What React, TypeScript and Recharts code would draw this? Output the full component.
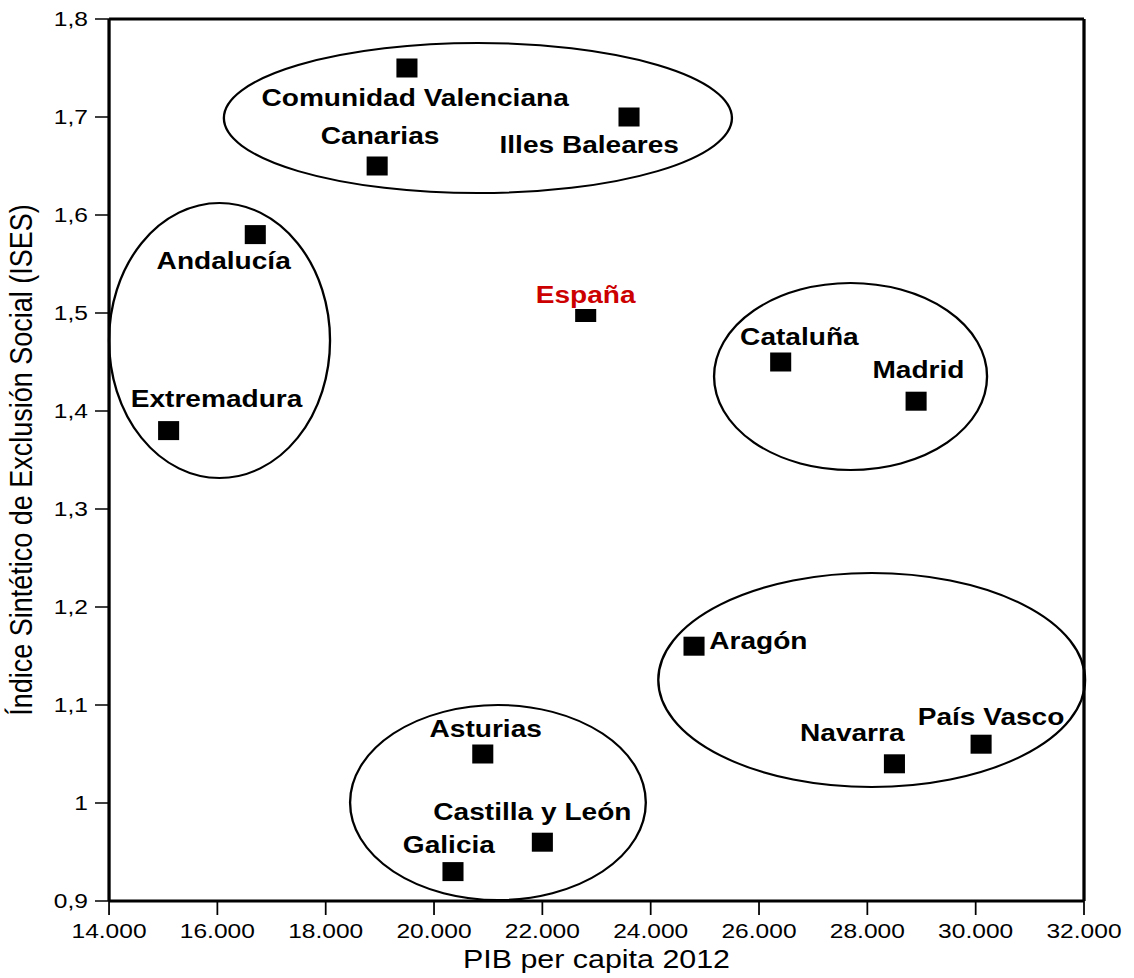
import { Label, ReferenceArea, ReferenceLine, Scatter, ScatterChart, XAxis, YAxis } from "recharts";

// the source image is stretched horizontally; draw narrower and scale x
const STRETCH = 1.17;
const WIDTH = 969;
const HEIGHT = 978;
const FONT = "'Liberation Sans', Arial, Helvetica, sans-serif";

const REGIONS = [
  "Comunidad Valenciana",
  "Illes Baleares",
  "Canarias",
  "Andalucía",
  "Cataluña",
  "Madrid",
  "Extremadura",
  "Aragón",
  "Asturias",
  "País Vasco",
  "Navarra",
  "Castilla y León",
  "Galicia",
];
const PIB = [19500, 23600, 18950, 16700, 26400, 28900, 15100, 24800, 20900, 30100, 28500, 22000, 20350];
const ISES = [1.75, 1.7, 1.65, 1.58, 1.45, 1.41, 1.38, 1.16, 1.05, 1.06, 1.04, 0.96, 0.93];

const SPAIN_PIB = 22800;
const SPAIN_ISES = 1.5;

const X_TICKS = [14000, 16000, 18000, 20000, 22000, 24000, 26000, 28000, 30000, 32000];
const Y_TICKS = [0.9, 1, 1.1, 1.2, 1.3, 1.4, 1.5, 1.6, 1.7, 1.8];

// group ellipses, bounding boxes in data units
const GROUP_X1 = [16120, 14000, 25170, 24140, 18450];
const GROUP_X2 = [25500, 18080, 30210, 32020, 23910];
const GROUP_Y1 = [1.6224, 1.3316, 1.3398, 1.0163, 0.901];
const GROUP_Y2 = [1.7755, 1.6122, 1.5306, 1.2347, 1.1];

// label placement relative to the marker centre (px)
const LABEL_OFFSET: Record<string, [number, number]> = {
  "Comunidad Valenciana": [7, 30],
  "Illes Baleares": [-34, 28],
  Canarias: [2.5, -30],
  "Andalucía": [-27, 26],
  "Cataluña": [16, -25],
  Madrid: [2, -31],
  Extremadura: [41, -32],
  "Aragón": [55, -5],
  Asturias: [2.5, -25],
  "País Vasco": [8.5, -27],
  Navarra: [-36, -31],
  "Castilla y León": [-8.5, -30],
  Galicia: [-3.5, -27],
  "España": [0, -18],
};

const points = REGIONS.map((name, i) => ({ name, pib: PIB[i], ises: ISES[i] }));
const spain = [{ name: "España", pib: SPAIN_PIB, ises: SPAIN_ISES }];
const groups = GROUP_X1.map((x1, i) => ({ x1, x2: GROUP_X2[i], y1: GROUP_Y1[i], y2: GROUP_Y2[i] }));

const fmtX = (v: number) => `${v / 1000}.000`;
const fmtY = (v: number) => String(v).replace(".", ",");

const PointLabel = ({ cx, cy, name, color }: { cx: number; cy: number; name: string; color: string }) => {
  const [dx, dy] = LABEL_OFFSET[name] || [0, -25];
  return (
    <text
      x={cx + dx}
      y={cy + dy + 8}
      textAnchor="middle"
      fontFamily={FONT}
      fontWeight="bold"
      fontSize={24}
      fill={color}
    >
      {name}
    </text>
  );
};

const RegionShape = (props: any) => {
  const { cx, cy, payload } = props;
  return (
    <g>
      <rect x={cx - 9} y={cy - 9.5} width={18} height={19} fill="#000" />
      <PointLabel cx={cx} cy={cy} name={payload.name} color="#000" />
    </g>
  );
};

const SpainShape = (props: any) => {
  const { cx, cy, payload } = props;
  return (
    <g>
      <rect x={cx - 9} y={cy - 4} width={18} height={13} fill="#000" />
      <PointLabel cx={cx} cy={cy} name={payload.name} color="#cc0000" />
    </g>
  );
};

const EllipseShape = (props: any) => {
  const { x, y, width, height } = props;
  return (
    <ellipse
      cx={x + width / 2}
      cy={y + height / 2}
      rx={Math.abs(width) / 2}
      ry={Math.abs(height) / 2}
      fill="none"
      stroke="#000"
      strokeWidth={2}
    />
  );
};

export default function App() {
  return (
    <div
      style={{
        position: "absolute",
        left: 0,
        top: 0,
        width: WIDTH,
        height: HEIGHT,
        transform: `scaleX(${STRETCH})`,
        transformOrigin: "0 0",
        background: "#fff",
      }}
    >
      <ScatterChart
        width={WIDTH}
        height={HEIGHT}
        margin={{ top: 19, right: 42.5, left: 0, bottom: 0 }}
      >
        <XAxis
          type="number"
          dataKey="pib"
          domain={[14000, 32000]}
          ticks={X_TICKS}
          tickFormatter={fmtX}
          height={77}
          tickSize={14}
          tickMargin={8}
          axisLine={{ stroke: "#000", strokeWidth: 2.8 }}
          tickLine={{ stroke: "#000", strokeWidth: 1.5 }}
          tick={{ fill: "#000", fontSize: 21, fontFamily: FONT }}
          interval={0}
        >
          <Label
            value="PIB per capita 2012"
            position="insideBottom"
            offset={10}
            style={{ fill: "#000", fontSize: 26, fontFamily: FONT }}
          />
        </XAxis>
        <YAxis
          type="number"
          dataKey="ises"
          domain={[0.9, 1.8]}
          ticks={Y_TICKS}
          tickFormatter={fmtY}
          width={93.2}
          tickSize={12}
          tickMargin={6}
          axisLine={{ stroke: "#000", strokeWidth: 2.8 }}
          tickLine={{ stroke: "#000", strokeWidth: 1.5 }}
          tick={{ fill: "#000", fontSize: 21, fontFamily: FONT }}
          interval={0}
        >
          <Label
            value="Índice Sintético de Exclusión Social (ISES)"
            angle={-90}
            position="insideLeft"
            offset={18}
            style={{ fill: "#000", fontSize: 27, fontFamily: FONT, textAnchor: "middle" }}
          />
        </YAxis>
        <ReferenceLine y={1.8} stroke="#000" strokeWidth={2.8} />
        <ReferenceLine x={32000} stroke="#000" strokeWidth={2.8} />
        {groups.map((g, i) => (
          <ReferenceArea
            key={i}
            x1={g.x1}
            x2={g.x2}
            y1={g.y1}
            y2={g.y2}
            ifOverflow="visible"
            shape={EllipseShape}
          />
        ))}
        <Scatter data={points} shape={RegionShape} isAnimationActive={false} />
        <Scatter data={spain} shape={SpainShape} isAnimationActive={false} />
      </ScatterChart>
    </div>
  );
}
